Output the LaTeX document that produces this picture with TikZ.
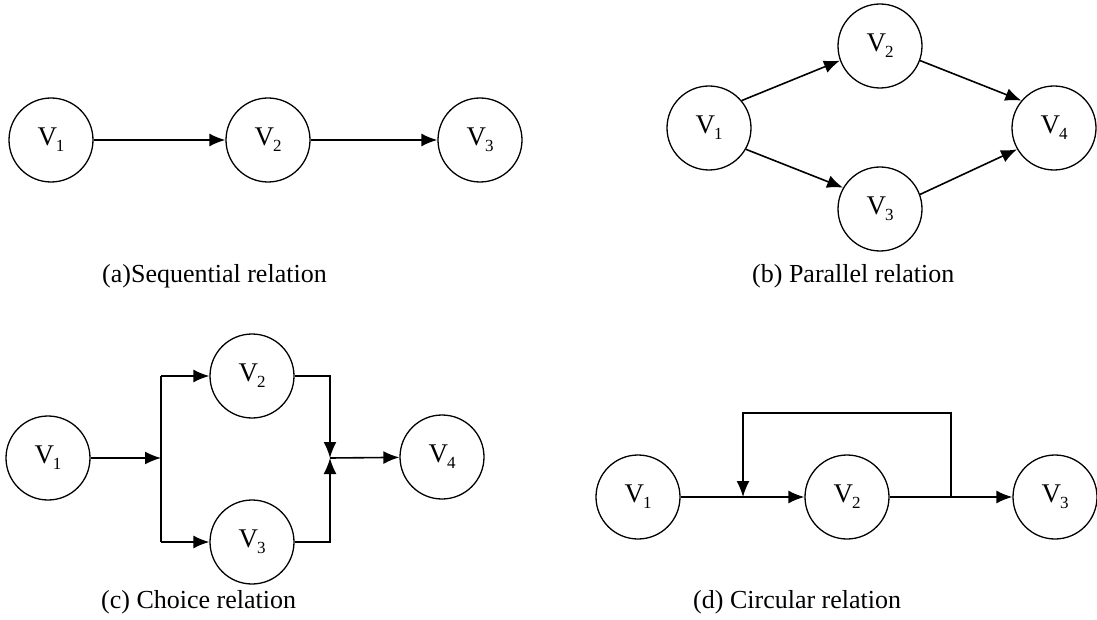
\documentclass[tikz,border=0pt]{standalone}
\usepackage{fontspec}
\setmainfont{Liberation Serif}
\usetikzlibrary{arrows.meta}

% vertex label: V with a lowered index
\newcommand{\vlab}[1]{V\kern-1pt\raisebox{-0.22em}{\fontsize{17}{17}\selectfont #1}}

\tikzset{
  vnode/.style={draw, circle, minimum size=84pt, inner sep=0pt, line width=1.3pt,
                font=\fontsize{27}{27}\selectfont},
  wire/.style={line width=1.6pt},
  flow/.style={wire, -{Latex[length=16pt,width=13pt]}},
  captext/.style={anchor=base west, inner sep=0pt, font=\fontsize{26}{30}\selectfont}
}

\begin{document}
\begin{tikzpicture}[x=1pt, y=-1pt]
\useasboundingbox (0,0) rectangle (1097,620);

% (a) sequential
\node[vnode] (a1) at (51,140)  {\vlab{1}};
\node[vnode] (a2) at (268,140) {\vlab{2}};
\node[vnode] (a3) at (480,140) {\vlab{3}};
\draw[flow] (a1) -- (a2);
\draw[flow] (a2) -- (a3);
\node[captext] (capa) at (102,283) {(a)Sequential relation};

% (b) parallel
\node[vnode] (b1) at (709,128)  {\vlab{1}};
\node[vnode] (b2) at (880,46)   {\vlab{2}};
\node[vnode] (b3) at (880,209)  {\vlab{3}};
\node[vnode] (b4) at (1054,128) {\vlab{4}};
\draw[flow] (b1.40)  -- (b2.200);
\draw[flow] (b1.-30) -- (b3.150);
\draw[flow] (b2.-20) -- (b4.140);
\draw[flow] (b3.20)  -- (b4.210);
\node[captext] (capb) at (752,283) {(b) Parallel relation};

% (c) choice
\node[vnode] (c1) at (48,458)  {\vlab{1}};
\node[vnode] (c2) at (252,376) {\vlab{2}};
\node[vnode] (c3) at (252,542) {\vlab{3}};
\node[vnode] (c4) at (442,457) {\vlab{4}};
\coordinate (cs) at (161,458);
\coordinate (ct) at (161,376);
\coordinate (cb) at (161,542);
\coordinate (cr) at (330,458);
\draw[flow] (c1) -- (cs);
\draw[wire] (ct) -- (cb);
\draw[flow] (ct) -- (c2);
\draw[flow] (cb) -- (c3);
\draw[flow] (c2) -| (cr);
\draw[flow] (c3) -| (cr);
\draw[flow] (cr) -- (c4);
\node[captext] (capc) at (101,608) {(c) Choice relation};

% (d) circular
\node[vnode] (d1) at (638,497)  {\vlab{1}};
\node[vnode] (d2) at (847,497)  {\vlab{2}};
\node[vnode] (d3) at (1055,497) {\vlab{3}};
\coordinate (dm)  at (743,497);
\coordinate (dr)  at (951,497);
\coordinate (dtl) at (743,413);
\coordinate (dtr) at (951,413);
\draw[flow] (d1) -- (d2);
\draw[flow] (d2) -- (d3);
\draw[flow] (dr) -- (dtr) -- (dtl) -- (dm);
\node[captext] (capd) at (693,608) {(d) Circular relation};
\end{tikzpicture}
\end{document}
